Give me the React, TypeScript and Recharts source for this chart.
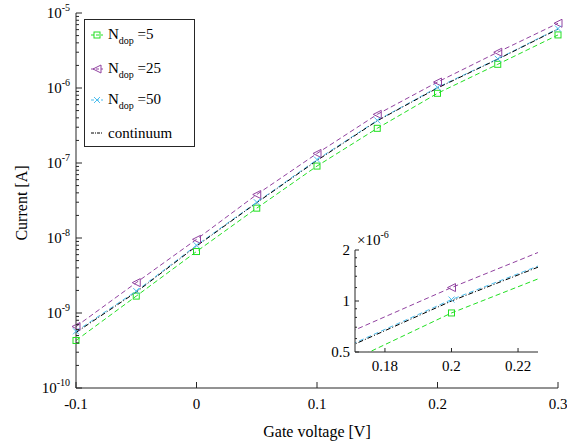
import React from "react";
import { LineChart, Line, XAxis, YAxis, Legend } from "recharts";

// gate voltage sweep [V]
const gateVoltage = [-0.1, -0.05, 0, 0.05, 0.1, 0.15, 0.2, 0.25, 0.3];

// drain current [A]
const ndop5 = [4.3e-10, 1.68e-9, 6.6e-9, 2.5e-8, 9.1e-8, 2.9e-7, 8.5e-7, 2.07e-6, 5.1e-6];
const ndop25 = [6.6e-10, 2.54e-9, 9.6e-9, 3.8e-8, 1.34e-7, 4.45e-7, 1.2e-6, 3.0e-6, 7.3e-6];
const ndop50 = [5.7e-10, 1.96e-9, 8.0e-9, 3.0e-8, 1.11e-7, 3.7e-7, 1.02e-6, 2.45e-6, 6.2e-6];
const continuum = [5.5e-10, 1.9e-9, 7.8e-9, 2.95e-8, 1.08e-7, 3.65e-7, 1.0e-6, 2.42e-6, 6.1e-6];

const xTicks = [-0.1, 0, 0.1, 0.2, 0.3];
const xTickLabels = ["-0.1", "0", "0.1", "0.2", "0.3"];
const yDecades = [1e-10, 1e-9, 1e-8, 1e-7, 1e-6, 1e-5];
const yExponents = ["-10", "-9", "-8", "-7", "-6", "-5"];
const minorFactors = [2, 3, 4, 5, 6, 7, 8, 9];

const insetXTicks = [0.18, 0.2, 0.22];
const insetXLabels = ["0.18", "0.2", "0.22"];
const insetYMajor = [0.5e-6, 1e-6, 2e-6];
const insetYLabels = ["0.5", "1", "2"];
const insetYMinor = [0.6e-6, 0.7e-6, 0.8e-6, 0.9e-6, 1.2e-6, 1.4e-6, 1.6e-6, 1.8e-6];

const data = gateVoltage.map((v, i) => ({
  v,
  n5: ndop5[i],
  n25: ndop25[i],
  n50: ndop50[i],
  cont: continuum[i],
}));

const yTicks = [
  ...yDecades,
  ...yDecades.slice(0, -1).flatMap((d) => minorFactors.map((f) => d * f)),
];
const insetYTicks = [...insetYMajor, ...insetYMinor];

const AXIS = "#262626";
const FONT = "Liberation Serif, Times New Roman, serif";
const txt = { fontFamily: FONT };

type Marker = "square" | "triangle" | "cross" | "none";
const series: { key: string; label: string; color: string; dash: string; marker: Marker }[] = [
  { key: "n5", label: "5", color: "#22e022", dash: "5 3", marker: "square" },
  { key: "n25", label: "25", color: "#9142a0", dash: "5 3", marker: "triangle" },
  { key: "n50", label: "50", color: "#4dbeee", dash: "5 3", marker: "cross" },
  { key: "cont", label: "continuum", color: "#000000", dash: "5 2 1 2", marker: "none" },
];

function MarkerShape({ cx, cy, color, marker }: { cx: number; cy: number; color: string; marker: Marker }) {
  if (marker === "square")
    return <rect x={cx - 3} y={cy - 3} width={6} height={6} fill="none" stroke={color} strokeWidth={1} />;
  if (marker === "triangle")
    return (
      <polygon
        points={`${cx - 4},${cy} ${cx + 4},${cy - 4} ${cx + 4},${cy + 4}`}
        fill="none"
        stroke={color}
        strokeWidth={1}
      />
    );
  if (marker === "cross")
    return (
      <path d={`M${cx - 3},${cy - 3}L${cx + 3},${cy + 3}M${cx - 3},${cy + 3}L${cx + 3},${cy - 3}`} stroke={color} strokeWidth={1} />
    );
  return null;
}

const makeDot = (color: string, marker: Marker) => (props: any) => {
  const { cx, cy, index } = props;
  if (marker === "none" || cx == null || cy == null) return <g key={`d${index}`} />;
  return (
    <g key={`d${index}`}>
      <MarkerShape cx={cx} cy={cy} color={color} marker={marker} />
    </g>
  );
};

const near = (a: number, b: number) => Math.abs(a - b) < Math.abs(b) * 1e-6;

// ---- main axes ticks (drawn inward like the original figure) ----
const LeftLogTick = (props: any) => {
  const { x, y, payload } = props;
  const idx = yDecades.findIndex((d) => near(payload.value, d));
  const major = idx >= 0;
  return (
    <g>
      <line x1={x} x2={x + (major ? 6 : 3)} y1={y} y2={y} stroke={AXIS} />
      {major && (
        <text x={x - 6} y={y + 5} textAnchor="end" fontSize={15} fontFamily={FONT} style={txt} fill="#000">
          10
          <tspan dy={-7} fontSize={10}>
            {yExponents[idx]}
          </tspan>
        </text>
      )}
    </g>
  );
};

const RightLogTick = (props: any) => {
  const { x, y, payload } = props;
  const major = yDecades.some((d) => near(payload.value, d));
  return <line x1={x} x2={x - (major ? 6 : 3)} y1={y} y2={y} stroke={AXIS} />;
};

const BottomTick = (props: any) => {
  const { x, y, payload } = props;
  const idx = xTicks.findIndex((t) => near(payload.value, t) || payload.value === t);
  return (
    <g>
      <line x1={x} x2={x} y1={y} y2={y - 6} stroke={AXIS} />
      <text x={x} y={y + 21} textAnchor="middle" fontSize={15} fontFamily={FONT} style={txt} fill="#000">
        {xTickLabels[idx]}
      </text>
    </g>
  );
};

const TopTick = (props: any) => {
  const { x, y } = props;
  return <line x1={x} x2={x} y1={y} y2={y + 6} stroke={AXIS} />;
};

// ---- inset ticks ----
const InsetLeftTick = (props: any) => {
  const { x, y, payload } = props;
  const idx = insetYMajor.findIndex((d) => near(payload.value, d));
  const major = idx >= 0;
  return (
    <g>
      <line x1={x} x2={x + (major ? 4 : 2)} y1={y} y2={y} stroke={AXIS} />
      {major && (
        <text x={x - 5} y={y + 5} textAnchor="end" fontSize={15} fontFamily={FONT} style={txt} fill="#000">
          {insetYLabels[idx]}
        </text>
      )}
    </g>
  );
};

const InsetRightTick = (props: any) => {
  const { x, y, payload } = props;
  const major = insetYMajor.some((d) => near(payload.value, d));
  return <line x1={x} x2={x - (major ? 4 : 2)} y1={y} y2={y} stroke={AXIS} />;
};

const InsetBottomTick = (props: any) => {
  const { x, y, payload } = props;
  const idx = insetXTicks.findIndex((t) => near(payload.value, t));
  return (
    <g>
      <line x1={x} x2={x} y1={y} y2={y - 4} stroke={AXIS} />
      <text x={x} y={y + 19} textAnchor="middle" fontSize={15} fontFamily={FONT} style={txt} fill="#000">
        {insetXLabels[idx]}
      </text>
    </g>
  );
};

const InsetTopTick = (props: any) => {
  const { x, y } = props;
  return <line x1={x} x2={x} y1={y} y2={y + 4} stroke={AXIS} />;
};

const XTitle = (props: any) => {
  const vb = props.viewBox || {};
  return (
    <text x={vb.x + vb.width / 2} y={437} textAnchor="middle" fontSize={16} fontFamily={FONT} style={txt} fill="#000">
      Gate voltage [V]
    </text>
  );
};

const YTitle = () => (
  <text
    x={27}
    y={203}
    transform="rotate(-90 27 203)"
    textAnchor="middle"
    fontSize={16}
    fontFamily={FONT}
    style={txt}
    fill="#000"
  >
    Current [A]
  </text>
);

const InsetScale = (props: any) => {
  const vb = props.viewBox || {};
  return (
    <text x={vb.x + vb.width + 2} y={20} fontSize={15} fontFamily={FONT} style={txt} fill="#000">
      ×10
      <tspan dy={-7} fontSize={10}>
        -6
      </tspan>
    </text>
  );
};

function LegendBox() {
  const rows = [16, 50, 81, 114];
  return (
    <svg width={112} height={129} style={{ display: "block" }}>
      <rect x={0.5} y={0.5} width={110} height={127} fill="#fff" stroke={AXIS} strokeWidth={1} />
      {series.map((s, i) => {
        const cy = rows[i];
        return (
          <g key={s.key}>
            <line x1={7} x2={19} y1={cy} y2={cy} stroke={s.color} strokeDasharray={s.marker === "none" ? "3 1 1 1" : "3 2"} />
            <MarkerShape cx={13} cy={cy} color={s.color} marker={s.marker} />
            {s.marker === "none" ? (
              <text x={24} y={cy + 5} fontSize={15} fontFamily={FONT} style={txt} fill="#000">
                {s.label}
              </text>
            ) : (
              <text x={24} y={cy + 4} fontSize={15} fontFamily={FONT} style={txt} fill="#000">
                N
                <tspan dy={5} fontSize={10}>
                  dop
                </tspan>
                <tspan dy={-5}> ={s.label}</tspan>
              </text>
            )}
          </g>
        );
      })}
    </svg>
  );
}

export default function App() {
  return (
    <div style={{ position: "absolute", left: 0, top: 0, width: 567, height: 446, background: "#fff", fontFamily: FONT }}>
      <LineChart width={567} height={446} data={data} margin={{ top: 13, right: 9, bottom: 10, left: 16 }}>
        <XAxis
          dataKey="v"
          type="number"
          domain={[-0.1, 0.3]}
          ticks={xTicks}
          interval={0}
          height={48}
          tickSize={0}
          tickMargin={0}
          tick={BottomTick}
          axisLine={{ stroke: AXIS }}
          label={<XTitle />}
        />
        <XAxis
          xAxisId="top"
          orientation="top"
          dataKey="v"
          type="number"
          domain={[-0.1, 0.3]}
          ticks={xTicks}
          interval={0}
          height={0}
          tickSize={0}
          tickMargin={0}
          tick={TopTick}
          axisLine={{ stroke: AXIS }}
        />
        <YAxis
          type="number"
          scale="log"
          domain={[1e-10, 1e-5]}
          ticks={yTicks}
          interval={0}
          width={60}
          tickSize={0}
          tickMargin={0}
          tick={LeftLogTick}
          axisLine={{ stroke: AXIS }}
          label={<YTitle />}
        />
        <YAxis
          yAxisId="right"
          orientation="right"
          type="number"
          scale="log"
          domain={[1e-10, 1e-5]}
          ticks={yTicks}
          interval={0}
          width={0}
          tickSize={0}
          tickMargin={0}
          tick={RightLogTick}
          axisLine={{ stroke: AXIS }}
        />
        {series.map((s) => (
          <Line
            key={s.key}
            dataKey={s.key}
            name={s.label}
            type="linear"
            stroke={s.color}
            strokeWidth={1}
            strokeDasharray={s.dash}
            dot={makeDot(s.color, s.marker)}
            activeDot={false}
            isAnimationActive={false}
          />
        ))}
        <Legend
          layout="vertical"
          align="center"
          verticalAlign="middle"
          wrapperStyle={{ left: 84, top: 19, width: 112, height: 129 }}
          content={() => <LegendBox />}
        />
      </LineChart>

      <div style={{ position: "absolute", left: 300, top: 225 }}>
        <LineChart width={250} height={150} data={data} margin={{ top: 25, right: 12, bottom: 0, left: 0 }}>
          <XAxis
            dataKey="v"
            type="number"
            domain={[0.171, 0.226]}
            allowDataOverflow
            ticks={insetXTicks}
            interval={0}
            height={23}
            tickSize={0}
            tickMargin={0}
            tick={InsetBottomTick}
            axisLine={{ stroke: AXIS }}
          />
          <XAxis
            xAxisId="top"
            orientation="top"
            dataKey="v"
            type="number"
            domain={[0.171, 0.226]}
            allowDataOverflow
            ticks={insetXTicks}
            interval={0}
            height={0}
            tickSize={0}
            tickMargin={0}
            tick={InsetTopTick}
            axisLine={{ stroke: AXIS }}
          />
          <YAxis
            type="number"
            scale="log"
            domain={[0.5e-6, 2e-6]}
            allowDataOverflow
            ticks={insetYTicks}
            interval={0}
            width={55}
            tickSize={0}
            tickMargin={0}
            tick={InsetLeftTick}
            axisLine={{ stroke: AXIS }}
            label={<InsetScale />}
          />
          <YAxis
            yAxisId="right"
            orientation="right"
            type="number"
            scale="log"
            domain={[0.5e-6, 2e-6]}
            allowDataOverflow
            ticks={insetYTicks}
            interval={0}
            width={0}
            tickSize={0}
            tickMargin={0}
            tick={InsetRightTick}
            axisLine={{ stroke: AXIS }}
          />
          {series.map((s) => (
            <Line
              key={s.key}
              dataKey={s.key}
              type="linear"
              stroke={s.color}
              strokeWidth={1}
              strokeDasharray={s.dash}
              dot={makeDot(s.color, s.marker)}
              activeDot={false}
              isAnimationActive={false}
            />
          ))}
        </LineChart>
      </div>
    </div>
  );
}
